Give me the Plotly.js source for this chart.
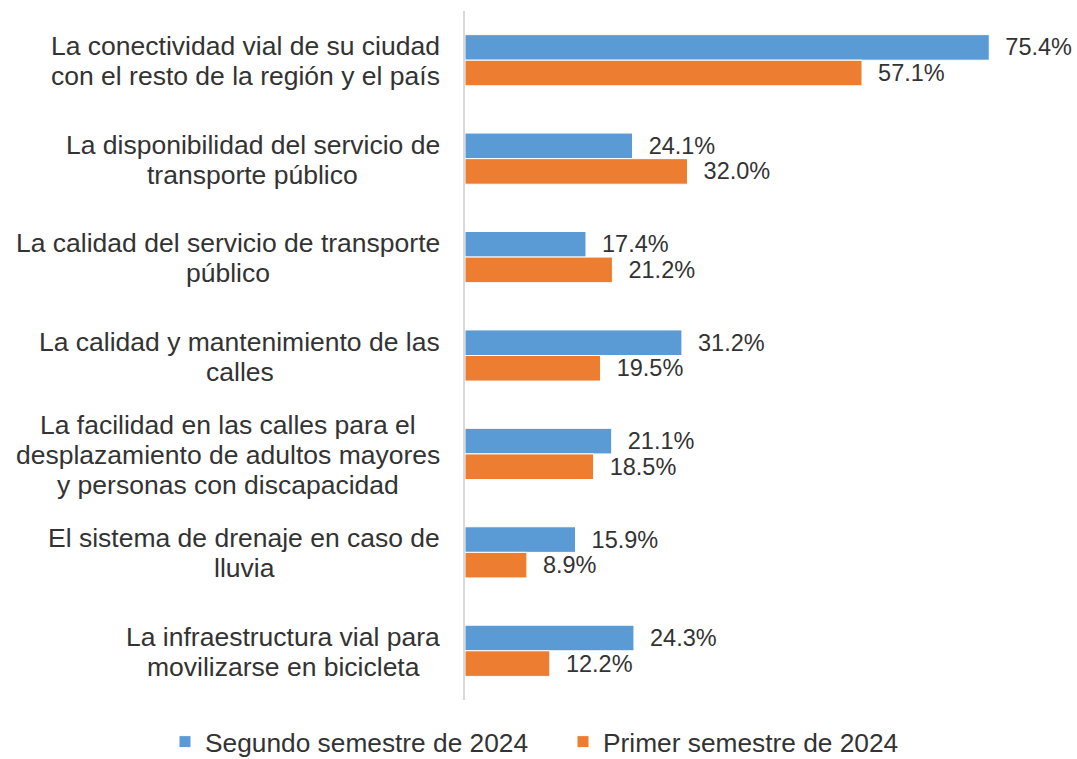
<!DOCTYPE html>
<html>
<head>
<meta charset="utf-8">
<script src="https://cdn.plot.ly/plotly-3.0.1.min.js"></script>
<style>html,body{margin:0;padding:0;background:#fff;}#chart{width:1077px;height:759px;}</style>
</head>
<body>
<div id="chart"></div>
<script>
const categories = [
  "La conectividad vial de su ciudad<br>con el resto de la región y el país",
  "La disponibilidad del servicio de<br>transporte público",
  "La calidad del servicio de transporte<br>público",
  "La calidad y mantenimiento de las<br>calles",
  "La facilidad en las calles para el<br>desplazamiento de adultos mayores<br>y personas con discapacidad",
  "El sistema de drenaje en caso de<br>lluvia",
  "La infraestructura vial para<br>movilizarse en bicicleta"
];
const seriesNames = ["Segundo semestre de 2024", "Primer semestre de 2024"];
const segundo2024 = [75.4, 24.1, 17.4, 31.2, 21.1, 15.9, 24.3];
const primer2024 = [57.1, 32.0, 21.2, 19.5, 18.5, 8.9, 12.2];

const FONT = "Liberation Sans, Arial, sans-serif";
const TXT = "#333333";
const LABEL_SIZE = 26.5;
const LINE_H = 30;
const LABEL_GAP = 25;

function barTrace(name, vals, color) {
  return {
    type: "bar", orientation: "h", name: name,
    y: categories, x: vals,
    marker: {color: color, line: {color: "#ffffff", width: 1}},
    text: vals.map(v => "\u00a0\u00a0" + v.toFixed(1) + "%"),
    textposition: "outside", cliponaxis: false, constraintext: "none",
    textfont: {family: FONT, size: 23.5, color: TXT},
    hoverinfo: "none"
  };
}

const data = [
  barTrace(seriesNames[0], segundo2024, "#5B9BD5"),
  barTrace(seriesNames[1], primer2024, "#ED7D31")
];

// category labels: centred lines, widest line right-aligned next to the axis
const ctx = document.createElement("canvas").getContext("2d");
ctx.font = LABEL_SIZE + "px 'Liberation Sans', Arial, sans-serif";
const annotations = [];
categories.forEach(c => {
  const lines = c.split("<br>");
  const maxW = Math.max(...lines.map(s => ctx.measureText(s).width));
  lines.forEach((s, i) => {
    annotations.push({
      xref: "paper", yref: "y", x: 0, y: c,
      xanchor: "center", yanchor: "middle",
      xshift: -(LABEL_GAP + maxW / 2),
      yshift: -((i - (lines.length - 1) / 2) * LINE_H) - 1,
      text: s, showarrow: false,
      font: {family: FONT, size: LABEL_SIZE, color: TXT}
    });
  });
});

const layout = {
  width: 1077, height: 759,
  margin: {l: 465, r: 21, t: 11, b: 59, autoexpand: false},
  paper_bgcolor: "#ffffff", plot_bgcolor: "#ffffff",
  barmode: "group", bargap: 0.48, bargroupgap: 0,
  font: {family: FONT, color: TXT},
  xaxis: {range: [0, 85], visible: false, fixedrange: true},
  yaxis: {autorange: "reversed", showticklabels: false, ticks: "",
          showline: true, linecolor: "#D9D9D9", linewidth: 2,
          showgrid: false, zeroline: false, fixedrange: true},
  showlegend: true,
  legend: {orientation: "h", xref: "paper", yref: "paper",
           x: -0.5076, xanchor: "left", y: -0.061, yanchor: "middle",
           font: {family: FONT, size: 26.3, color: TXT},
           itemwidth: 30, entrywidth: 353, entrywidthmode: "pixels",
           traceorder: "normal", bgcolor: "rgba(0,0,0,0)", borderwidth: 0},
  annotations: annotations
};

Plotly.newPlot("chart", data, layout, {displayModeBar: false, staticPlot: true});
</script>
</body>
</html>
